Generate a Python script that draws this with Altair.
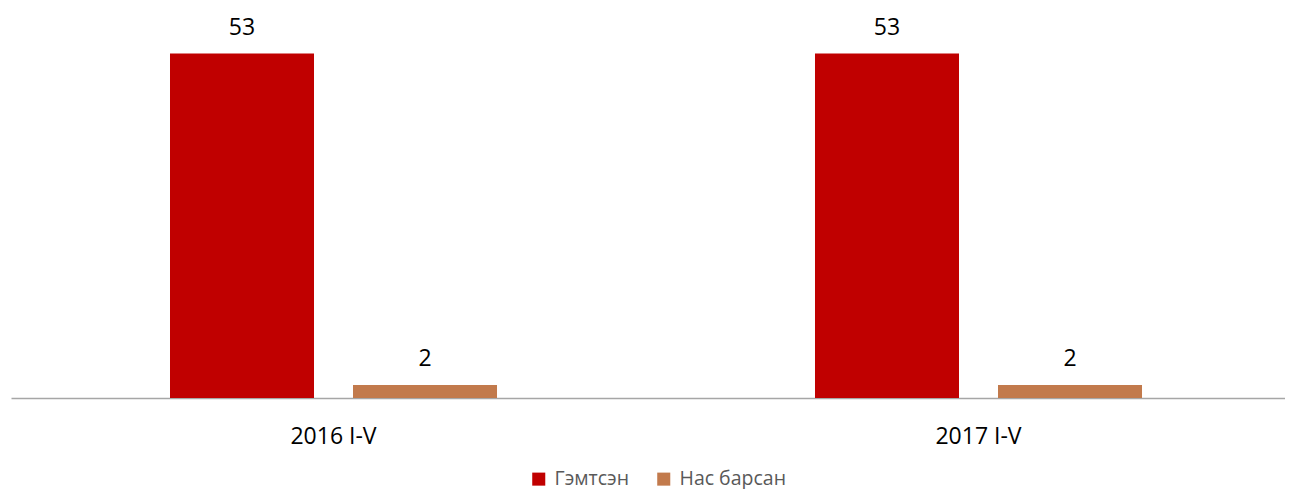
import altair as alt
import pandas as pd

categories = ["2016 I-V", "2017 I-V"]
series = ["Гэмтсэн", "Нас барсан"]
injured = [53, 53]
deaths = [2, 2]
colors = ["#C00000", "#C27A4C"]

rows = []
for i, c in enumerate(categories):
    rows.append({"period": c, "series": series[0], "value": injured[i]})
    rows.append({"period": c, "series": series[1], "value": deaths[i]})
df = pd.DataFrame(rows)

FONT = "Open Sans"

base = alt.Chart(df).encode(
    x=alt.X("period:N", sort=categories, title=None,
            scale=alt.Scale(paddingInner=0.493, paddingOuter=0.2341, align=0.5265),
            axis=alt.Axis(labelAngle=0, ticks=False, domainColor="#A6A6A6",
                          domainWidth=1.5, labelFontSize=23, labelFont=FONT,
                          labelColor="#000000", labelPadding=27)),
    xOffset=alt.XOffset("series:N", sort=series,
                        scale=alt.Scale(paddingInner=0.2131, paddingOuter=0)),
    y=alt.Y("value:Q", scale=alt.Scale(domain=[0, 60]), axis=None),
)

bars = base.mark_bar().encode(
    color=alt.Color("series:N", sort=series,
                    scale=alt.Scale(domain=series, range=colors),
                    legend=alt.Legend(title=None, orient="none", direction="horizontal",
                                      legendX=518, legendY=461,
                                      symbolType="square", symbolSize=170,
                                      symbolStrokeWidth=0,
                                      labelFont=FONT, labelFontSize=19.5,
                                      labelColor="#595959", columnPadding=24,
                                      labelOffset=6)),
)

labels = base.mark_text(dy=-26, fontSize=23, font=FONT, color="#000000").encode(
    text=alt.Text("value:Q"),
)

chart = alt.layer(bars, labels).properties(
    width=1274, height=390,
    autosize=alt.AutoSizeParams(type="none"),
    padding={"left": 3, "top": 0, "right": 0, "bottom": 92},
).configure_view(stroke=None)

chart.save("out.html", embed_options={"renderer": "svg", "actions": False})
